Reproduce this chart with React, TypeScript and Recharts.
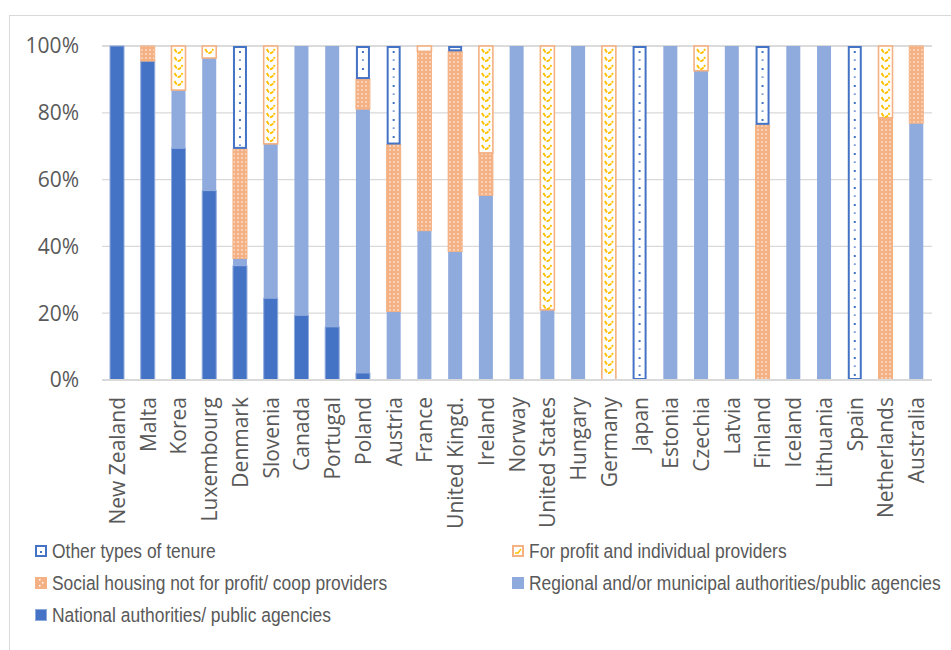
import React from "react";
import { Bar, BarChart, CartesianGrid, XAxis, YAxis } from "recharts";

const COUNTRIES = [
  "New Zealand", "Malta", "Korea", "Luxembourg", "Denmark", "Slovenia", "Canada",
  "Portugal", "Poland", "Austria", "France", "United Kingd.", "Ireland", "Norway",
  "United States", "Hungary", "Germany", "Japan", "Estonia", "Czechia", "Latvia",
  "Finland", "Iceland", "Lithuania", "Spain", "Netherlands", "Australia",
];

const NATIONAL = [100, 95.5, 69.4, 56.7, 34.2, 24.5, 19.4, 15.9, 2.1, 0, 0, 0, 0, 0, 0, 0, 0, 0, 0, 0, 0, 0, 0, 0, 0, 0, 0];
const REGIONAL = [0, 0, 17.4, 39.7, 2.2, 46.2, 80.6, 84.1, 79.0, 20.5, 44.7, 38.5, 55.3, 100, 21.0, 100, 0, 0, 100, 92.6, 100, 0, 100, 100, 0, 0, 76.9];
const SOCIAL = [0, 4.5, 0, 0, 32.8, 0, 0, 0, 9.0, 50.0, 53.7, 59.9, 12.7, 0, 0, 0, 0, 0, 0, 0, 0, 76.4, 0, 0, 0, 78.5, 23.1];
const PROFIT = [0, 0, 13.2, 3.6, 0, 29.3, 0, 0, 0, 0, 1.6, 0, 32.0, 0, 79.0, 0, 100, 0, 0, 7.4, 0, 0, 0, 0, 0, 21.5, 0];
const OTHER = [0, 0, 0, 0, 30.8, 0, 0, 0, 9.9, 29.5, 0, 1.6, 0, 0, 0, 0, 0, 100, 0, 0, 0, 23.6, 0, 0, 100, 0, 0];

const Y_TICKS = [0, 20, 40, 60, 80, 100];

const data = COUNTRIES.map((country, i) => ({
  country,
  national: NATIONAL[i],
  regional: REGIONAL[i],
  social: SOCIAL[i],
  profit: PROFIT[i],
  other: OTHER[i],
}));

const DARK_BLUE = "#4472C4";
const LIGHT_BLUE = "#8FAADC";
const ORANGE = "#F4B183";
const YELLOW = "#FFC000";
const TEXT = "#595959";
const GRID = "#D9D9D9";

const AXIS_FONT = "'Open Sans', sans-serif";
const LEGEND_FONT = "'Liberation Sans', Arial, sans-serif";

function plainShape(stroke: string, strokeWidth: number) {
  return (props: any) => {
    const { x, y, width, height, fill } = props;
    if (!height || Math.abs(height) < 0.5) return <g />;
    return (
      <rect x={x} y={y} width={width} height={height} fill={fill}
        stroke={stroke} strokeWidth={strokeWidth} />
    );
  };
}

function profitShape(props: any) {
  const { x, y, width, height } = props;
  if (!height || Math.abs(height) < 0.5) return <g />;
  let d = "";
  for (let yy = y + 3; yy < y + height - 4; yy += 8) {
    d += `M${x + 3} ${yy} Q${x + width / 2} ${yy + 8} ${x + width - 3} ${yy} `;
  }
  return (
    <g>
      <rect x={x} y={y} width={width} height={height} fill="#fff" stroke={ORANGE} strokeWidth={1.6} />
      <path d={d} fill="none" stroke={YELLOW} strokeWidth={1.8} strokeDasharray="4 1" />
    </g>
  );
}

function otherShape(props: any) {
  const { x, y, width, height } = props;
  if (!height || Math.abs(height) < 0.5) return <g />;
  const marks = [];
  let k = 0;
  for (let yy = y + 5; yy < y + height - 3; yy += 8.5) {
    marks.push(
      <rect key={k} x={x + width / 2 - 1} y={yy} width={2} height={k % 2 ? 1.2 : 2} fill={DARK_BLUE} />
    );
    k++;
  }
  return (
    <g>
      <rect x={x + 1} y={y + 1} width={width - 2} height={height - 2} fill="#fff" stroke={DARK_BLUE} strokeWidth={2} />
      {marks}
    </g>
  );
}

function CountryTick(props: any) {
  const { x, y, payload } = props;
  const ty = y + 17;
  return (
    <text x={x} y={ty} transform={`rotate(-90 ${x} ${ty})`} textAnchor="end" dy="0.36em"
      fill={TEXT} fontSize={21} fontFamily={AXIS_FONT}>
      {payload.value}
    </text>
  );
}

function Marker({ kind }: { kind: string }) {
  return (
    <svg width={12} height={12} style={{ display: "block", flex: "none" }}>
      {kind === "other" && (
        <g>
          <rect x={1} y={1} width={10} height={10} fill="#fff" stroke={DARK_BLUE} strokeWidth={2} />
          <rect x={5} y={6} width={2} height={2} fill={DARK_BLUE} />
        </g>
      )}
      {kind === "profit" && (
        <g>
          <rect x={1} y={1} width={10} height={10} fill="#fff" stroke={ORANGE} strokeWidth={2} />
          <path d="M3 8 L6 8 L9 4" fill="none" stroke={YELLOW} strokeWidth={1.5} />
        </g>
      )}
      {kind === "social" && (
        <g>
          <rect x={0} y={0} width={12} height={12} fill={ORANGE} />
          <rect x={4} y={2} width={1.5} height={1.5} fill="#fff" />
          <rect x={7} y={5} width={1.5} height={1.5} fill="#fff" />
          <rect x={4} y={8} width={1.5} height={1.5} fill="#fff" />
        </g>
      )}
      {kind === "regional" && <rect x={0} y={0} width={12} height={12} fill={LIGHT_BLUE} />}
      {kind === "national" && (
        <rect x={0.5} y={0.5} width={11} height={11} fill={DARK_BLUE} stroke={LIGHT_BLUE} strokeWidth={1} />
      )}
    </svg>
  );
}

const LEGEND_ITEMS = [
  { kind: "other", label: "Other types of tenure", left: 35, top: 551 },
  { kind: "profit", label: "For profit and individual providers", left: 512, top: 551 },
  { kind: "social", label: "Social housing not for profit/ coop providers", left: 35, top: 583 },
  { kind: "regional", label: "Regional and/or municipal authorities/public agencies", left: 512, top: 583 },
  { kind: "national", label: "National authorities/ public agencies", left: 35, top: 615 },
];

export default function App() {
  return (
    <div style={{ position: "absolute", left: 0, top: 0, width: 951, height: 650, background: "#fff", overflow: "hidden" }}>
      <div style={{ position: "absolute", left: 9, top: 15, width: 980, height: 700, border: `1px solid ${GRID}` }} />
      <div style={{ position: "absolute", left: 0, top: 0 }}>
        <BarChart width={951} height={530} data={data} barSize={14}
          margin={{ top: 46, right: 19, left: 0, bottom: 0 }}>
          <defs>
            <pattern id="socialPat" patternUnits="userSpaceOnUse" width={4} height={4}>
              <rect x={0} y={0} width={4} height={4} fill={ORANGE} />
              <rect x={1.2} y={1.2} width={1.6} height={1.6} fill="#FCE4D6" />
            </pattern>
          </defs>
          <CartesianGrid vertical={false} stroke={GRID} strokeWidth={1.3} />
          <XAxis dataKey="country" interval={0} height={150} tickLine={false} tickSize={0} tickMargin={0}
            axisLine={{ stroke: GRID, strokeWidth: 2 }} tick={<CountryTick />} />
          <YAxis width={102} domain={[0, 100]} ticks={Y_TICKS} tickFormatter={(v: number) => `${v}%`}
            axisLine={false} tickLine={false} tickSize={0} tickMargin={23}
            tick={{ fill: TEXT, fontSize: 21, fontFamily: AXIS_FONT }} />
          <Bar dataKey="national" stackId="a" fill={DARK_BLUE} isAnimationActive={false}
            shape={plainShape(LIGHT_BLUE, 1)} />
          <Bar dataKey="regional" stackId="a" fill={LIGHT_BLUE} isAnimationActive={false}
            shape={plainShape("none", 0)} />
          <Bar dataKey="social" stackId="a" fill="url(#socialPat)" isAnimationActive={false}
            shape={plainShape(ORANGE, 1)} />
          <Bar dataKey="profit" stackId="a" fill="#fff" isAnimationActive={false} shape={profitShape} />
          <Bar dataKey="other" stackId="a" fill="#fff" isAnimationActive={false} shape={otherShape} />
        </BarChart>
      </div>
      {LEGEND_ITEMS.map((item) => (
        <div key={item.kind} style={{ position: "absolute", left: item.left, top: item.top - 12, height: 24,
          display: "flex", alignItems: "center", gap: 5, fontFamily: LEGEND_FONT, fontSize: 20.5, color: TEXT,
          whiteSpace: "nowrap" }}>
          <Marker kind={item.kind} />
          <span style={{ display: "inline-block", transform: "scaleX(0.85)", transformOrigin: "left center" }}>
            {item.label}
          </span>
        </div>
      ))}
    </div>
  );
}
